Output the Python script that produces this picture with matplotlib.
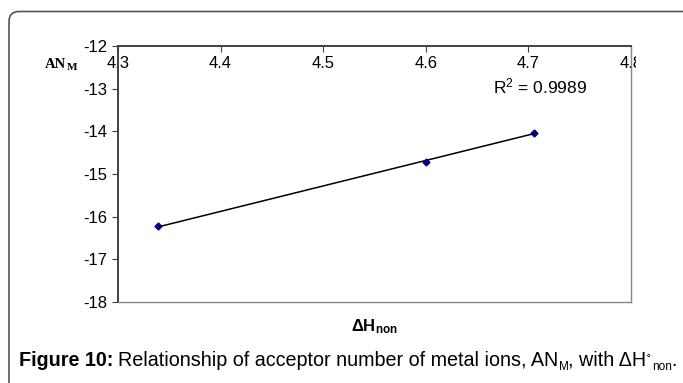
import numpy as np
import matplotlib.pyplot as plt
from matplotlib.patches import FancyBboxPatch
from matplotlib.transforms import Bbox, TransformedBbox, IdentityTransform

plt.rcParams['font.family'] = ['Liberation Sans', 'DejaVu Sans']
plt.rcParams['mathtext.fontset'] = 'custom'
plt.rcParams['mathtext.rm'] = 'Liberation Sans'
plt.rcParams['mathtext.bf'] = 'Liberation Sans:bold'
plt.rcParams['mathtext.it'] = 'Liberation Sans:italic'

# data
dh_non = [4.339, 4.600, 4.705]
an_m = [-16.23, -14.72, -14.03]
r2 = 0.9989

xticks = [4.3, 4.4, 4.5, 4.6, 4.7, 4.8]
xticklabels = ['4.3', '4.4', '4.5', '4.6', '4.7', '4.8']
yticks = [-18, -17, -16, -15, -14, -13, -12]

W, H = 683, 383
fig = plt.figure(figsize=(W/100, H/100), dpi=100)

# outer rounded frame (cut at right and bottom)
frame = FancyBboxPatch((9, -40), 760, H - 11.5 + 40,
                       boxstyle='round,pad=0,rounding_size=10',
                       transform=IdentityTransform(), fill=False,
                       edgecolor='#555555', lw=1.2)
fig.patches.append(frame)

x0, x1, yt, yb = 118, 631, 46, 302
ax = fig.add_axes([x0/W, 1 - yb/H, (x1 - x0)/W, (yb - yt)/H])

# linear trendline
k, b = np.polyfit(dh_non, an_m, 1)
xs = np.array([min(dh_non), max(dh_non)])
ax.plot(xs, k*xs + b, color='black', lw=1.1, zorder=2)
ax.plot(dh_non, an_m, ls='none', marker='D', ms=3.5, color='#000080', zorder=3)

ax.set_xlim(4.3, 4.8)
ax.set_ylim(-18, -12)
ax.set_yticks(yticks)
ax.set_yticklabels([str(v) for v in yticks])
ax.xaxis.tick_top()
ax.set_xticks(xticks)
ax.set_xticklabels(xticklabels)
ax.tick_params(axis='x', direction='in', length=4, pad=-18, labelsize=12,
               color='#404040')
ax.tick_params(axis='y', direction='out', length=4, pad=3.5, labelsize=12,
               color='#404040')

for s in ['left', 'top']:
    ax.spines[s].set_color('#404040')
    ax.spines[s].set_linewidth(1.4)
for s in ['right', 'bottom']:
    ax.spines[s].set_color('#888888')
    ax.spines[s].set_linewidth(1.0)

# the last x label is cut at the right border
lab = ax.get_xticklabels()[-1]
lab.set_clip_on(True)
lab.set_clip_box(TransformedBbox(Bbox([[0, 0], [636/W, 1]]), fig.transFigure))

fig.text(493/W, 1 - 86/H, r'R$^2$ = %.4f' % r2,
         fontsize=12.5, va='center', ha='left')

# y label, serif bold
fig.text(45/W, 1 - 68/H, 'AN', fontfamily='Liberation Serif', fontweight='bold',
         fontsize=10.5, va='baseline', ha='left')
fig.text(67/W, 1 - 70/H, 'M', fontfamily='Liberation Serif', fontweight='bold',
         fontsize=8, va='baseline', ha='left')

fig.text(374/W, 1 - 327/H, r'$\mathbf{\Delta H}_{\mathbf{non}}$',
         fontsize=12, ha='center', va='center')

# caption built from pieces: (text, size, weight, baseline shift px, gap px)
caption = [('Figure 10:', 14.2, 'bold', 0, 0),
           ('Relationship of acceptor number of metal ions, AN', 14.2, 'normal', 0, 5),
           ('M', 8.5, 'normal', -4, 0),
           (', with \u0394H', 14.2, 'normal', 0, 0),
           ('\u02da', 9, 'normal', 2, 0),
           ('non', 8.5, 'normal', -4, 1),
           ('.', 14.2, 'normal', 0, 0)]
cx, base = 19, 366
fig.canvas.draw()
r = fig.canvas.get_renderer()
for txt, fs, fw, dy, gap in caption:
    t = fig.text((cx + gap)/W, 1 - (base - dy)/H, txt, fontsize=fs,
                 fontweight=fw, ha='left', va='baseline')
    cx = t.get_window_extent(r).x1

fig.savefig('out.png', dpi=100)
